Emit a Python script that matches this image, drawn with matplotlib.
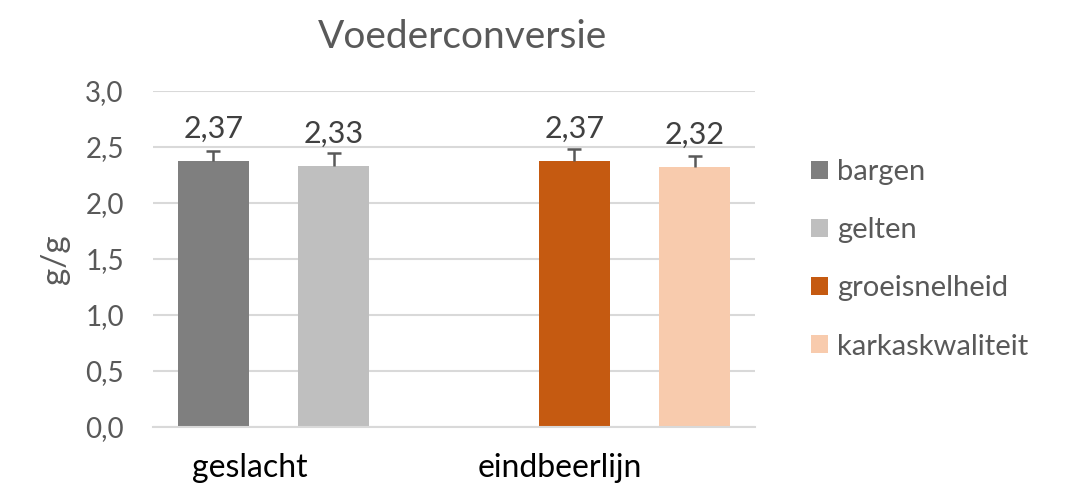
import numpy as np
import matplotlib
matplotlib.use("Agg")
import matplotlib.pyplot as plt
from matplotlib.patches import Patch

# Data ------------------------------------------------------------------------
categories = ["geslacht", "eindbeerlijn"]
series = ["bargen", "gelten", "groeisnelheid", "karkaskwaliteit"]
colors = ["#7F7F7F", "#BFBFBF", "#C55A11", "#F8CBAD"]
values = [
    [2.37, np.nan],
    [2.33, np.nan],
    [np.nan, 2.37],
    [np.nan, 2.32],
]
errors = [
    [0.09, np.nan],
    [0.12, np.nan],
    [np.nan, 0.11],
    [np.nan, 0.10],
]
yticks = [0.0, 0.5, 1.0, 1.5, 2.0, 2.5, 3.0]

plt.rcParams["font.family"] = ["Lato", "DejaVu Sans"]

fig = plt.figure(figsize=(10.83, 5.03), dpi=100)
ax = fig.add_axes([153 / 1083, 1 - 426.7 / 503, 602 / 1083, 335.7 / 503])

x = np.arange(len(categories))
offsets = [-0.3, 0.1, -0.1, 0.3]
width = 0.236

for i, name in enumerate(series):
    for j in range(len(categories)):
        v = values[i][j]
        if np.isnan(v):
            continue
        xp = x[j] + offsets[i]
        ax.bar(xp, v, width=width, color=colors[i], zorder=2)
        eb = ax.errorbar(xp, v, yerr=[[0], [errors[i][j]]], fmt="none",
                         ecolor="#595959", elinewidth=1.8, capsize=5,
                         capthick=1.8, zorder=3)
        eb[1][0].set_visible(False)
        ax.annotate(f"{v:.2f}".replace(".", ","), (xp, v), xytext=(0, 17),
                    textcoords="offset points", ha="center", va="baseline",
                    fontsize=22, color="#404040")

ax.set_xlim(-0.5, 1.5)
ax.set_ylim(0, 3.0)
ax.set_yticks(yticks)
ax.set_yticklabels([f"{t:.1f}".replace(".", ",") for t in yticks],
                   fontsize=20, color="#595959")
ax.tick_params(axis="y", length=0, pad=21)
ax.set_xticks(x + np.array([-0.18, -0.15]))
ax.set_xticklabels(categories, fontsize=23, color="black")
ax.tick_params(axis="x", length=0, pad=19)
ax.yaxis.grid(True, color="#D9D9D9", linewidth=1.5, zorder=0)
for s in ["top", "right", "left"]:
    ax.spines[s].set_visible(False)
ax.spines["bottom"].set_color("#D9D9D9")
ax.spines["bottom"].set_linewidth(1.5)

fig.text(463 / 1083, 1 - 48.3 / 503, "Voederconversie", ha="center",
         va="baseline", fontsize=28, color="#595959")
fig.text(55 / 1083, 1 - 259.5 / 503, "g/g", rotation=90, ha="center",
         va="center", fontsize=24, color="#595959")

handles = [Patch(facecolor=c, edgecolor="none") for c in colors]
fig.legend(handles, series, loc="center left",
           bbox_to_anchor=(811 / 1083, 1 - 259.4 / 503), frameon=False,
           fontsize=21, labelcolor="#595959", handlelength=0.58,
           handleheight=0.58, handletextpad=0.31, labelspacing=1.1,
           borderpad=0, borderaxespad=0)

fig.savefig("out.png", dpi=100)
